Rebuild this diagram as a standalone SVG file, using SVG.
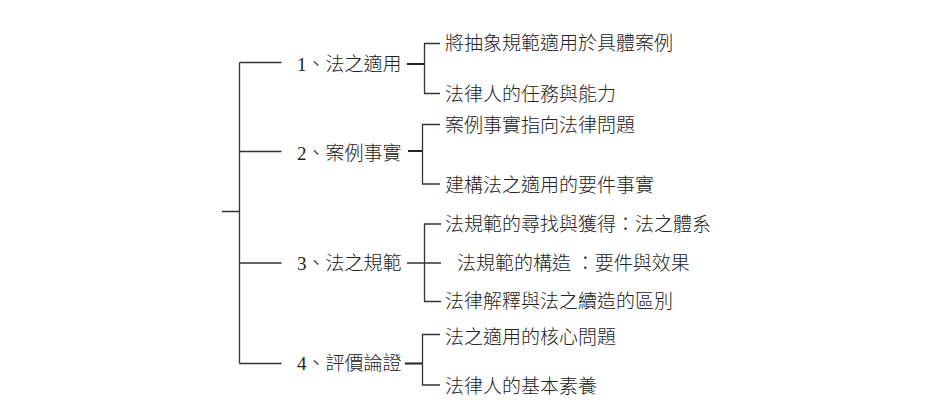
<svg xmlns="http://www.w3.org/2000/svg" width="941" height="412" viewBox="0 0 941 412">
<style>
text{font-family:"Liberation Serif","Noto Sans CJK TC",serif;font-size:19px;fill:#222;font-weight:300}
.ln{stroke:#333;stroke-width:1.3;fill:none}
.dash{stroke:#222;stroke-width:2;fill:none}
</style>
<rect width="941" height="412" fill="#fff"/>
<g id="connectors">
<path class="ln" d="M239.5 62.5V363.5M239.5 62.5H281.5M239.5 151.5H281.5M239.5 263H281.5M239.5 363.5H281.5M222 211.5H239.5"/>
<path class="dash" d="M407 64H424.5"/>
<path class="ln" d="M440 43.5H424.5V93.5H440"/>
<path class="dash" d="M408 151H422.5"/>
<path class="ln" d="M440 124.5H422.5V184H440"/>
<path class="ln" d="M407 263H441M441 224H424.5V301.5H441"/>
<path class="dash" d="M405 363.5H422.5"/>
<path class="ln" d="M440 334.5H422.5V385H440"/>
</g>
<g id="n1"><text x="297" y="71">1、法之適用</text></g>
<g id="n2"><text x="297" y="160">2、案例事實</text></g>
<g id="n3"><text x="297" y="270">3、法之規範</text></g>
<g id="n4"><text x="297" y="370">4、評價論證</text></g>
<g id="n1a"><text x="445" y="49.5">將抽象規範適用於具體案例</text></g>
<g id="n1b"><text x="445" y="101">法律人的任務與能力</text></g>
<g id="n2a"><text x="445" y="132">案例事實指向法律問題</text></g>
<g id="n2b"><text x="445" y="192">建構法之適用的要件事實</text></g>
<g id="n3a"><text x="445" y="231">法規範的尋找與獲得：法之體系</text></g>
<g id="n3b"><text x="457" y="270" xml:space="preserve">法規範的構造 ：要件與效果</text></g>
<g id="n3c"><text x="445" y="308">法律解釋與法之續造的區別</text></g>
<g id="n4a"><text x="445" y="344">法之適用的核心問題</text></g>
<g id="n4b"><text x="445" y="393">法律人的基本素養</text></g>
</svg>
